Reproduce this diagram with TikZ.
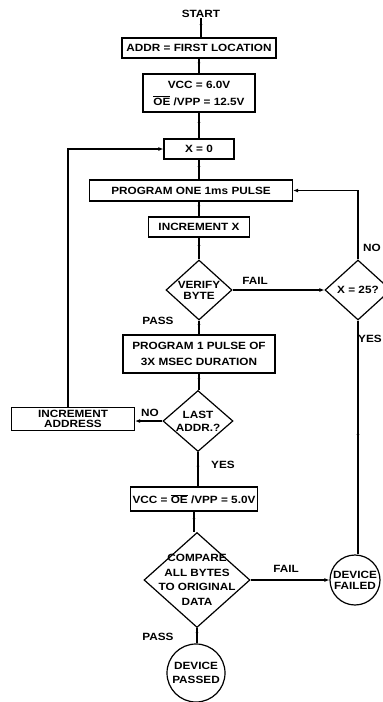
\documentclass[tikz,border=0pt]{standalone}
\usepackage{fontspec}
\setmainfont{Liberation Sans}[FakeStretch=1.12]
\usetikzlibrary{shapes.geometric,arrows.meta,decorations.markings}
\newcommand{\ovl}[1]{$\overline{\hbox{#1}}$}
\begin{document}
\begin{tikzpicture}[x=1pt,y=-1pt,
  every node/.style={font=\bfseries\fontsize{10.5}{12}\selectfont},
  box/.style={draw,line width=1.2pt,inner sep=0pt,align=center},
  dia/.style={draw,diamond,line width=1.2pt,inner sep=0pt},
  term/.style={draw,circle,line width=1.2pt,inner sep=0pt,align=center},
  txt/.style={inner sep=0pt,align=center},
  flow/.style={line width=1.1pt},
  tip/.style={-{Latex[length=5pt,width=4pt]}},
  midtip/.style={postaction={decorate},decoration={markings,mark=at position 0.5 with {\arrow{Latex[length=3.5pt,width=3pt]}}}},
  lbl/.style={inner sep=0pt}]
\useasboundingbox (0,0) rectangle (383,702);
\clip (0,0) rectangle (383,702);
% nodes
\node[txt] (start) at (201,14) {START};
\node[box,minimum width=154pt,minimum height=20pt] (addr) at (199,48) {ADDR = FIRST LOCATION};
\node[box,minimum width=112pt,minimum height=38pt,font=\bfseries\fontsize{10.5}{17}\selectfont] (vcc) at (199,93) {VCC = 6.0V\\\ovl{OE} /VPP = 12.5V};
\node[box,minimum width=70pt,minimum height=20pt] (x0) at (199,149) {X = 0};
\node[box,minimum width=203pt,minimum height=21pt] (prog) at (191,190.5) {PROGRAM ONE 1ms PULSE};
\node[box,minimum width=101pt,minimum height=20pt] (incx) at (199,227) {INCREMENT X};
\node[dia,minimum width=66pt,minimum height=60pt] (verify) at (199,290) {};
\node[txt,font=\bfseries\fontsize{10.5}{11}\selectfont] (verifyT) at (verify) {VERIFY\\BYTE};
\node[dia,minimum width=66pt,minimum height=60pt] (x25) at (358,290) {};
\node[txt] (x25T) at (x25) {X = 25?};
\node[box,minimum width=152pt,minimum height=38pt,font=\bfseries\fontsize{10.5}{16}\selectfont] (prog3) at (199,354) {PROGRAM 1 PULSE OF\\3X MSEC DURATION};
\node[dia,minimum width=70pt,minimum height=61pt] (last) at (198,421) {};
\node[txt,font=\bfseries\fontsize{10.5}{13}\selectfont] (lastT) at (last) {LAST\\ADDR.?};
\node[box,minimum width=123pt,minimum height=23pt,font=\bfseries\fontsize{10.5}{10}\selectfont] (incaddr) at (73,419) {INCREMENT\\ADDRESS};
\node[box,minimum width=127pt,minimum height=24pt] (vcc5) at (194,499) {VCC = \ovl{OE} /VPP = 5.0V};
\node[dia,minimum width=106pt,minimum height=95pt] (compare) at (197,580) {};
\node[txt,font=\bfseries\fontsize{10.5}{14.5}\selectfont] (compareT) at (compare) {COMPARE\\ALL BYTES\\TO ORIGINAL\\DATA};
\node[term,minimum size=50pt,font=\bfseries\fontsize{10.5}{11}\selectfont] (fail) at (355,580) {DEVICE\\FAILED};
\node[term,minimum size=58pt,font=\bfseries\fontsize{10.5}{14}\selectfont] (passed) at (196,673) {DEVICE\\PASSED};
% labels
\node[lbl] (lfail1) at (255,281) {FAIL};
\node[lbl] (lpass1) at (158,321) {PASS};
\node[lbl] (lno1) at (372,248) {NO};
\node[lbl] (lyes1) at (370,339) {YES};
\node[lbl] (lno2) at (150,413) {NO};
\node[lbl] (lyes2) at (223,465) {YES};
\node[lbl] (lfail2) at (286,569) {FAIL};
\node[lbl] (lpass2) at (158,637) {PASS};
% connectors
\draw[flow,midtip] (start.south) -- (start.south |- addr.north);
\draw[flow,midtip] (addr.south) -- (addr.south |- vcc.north);
\draw[flow,midtip] (vcc.south) -- (vcc.south |- x0.north);
\draw[flow,midtip] (x0.south) -- (x0.south |- prog.north);
\draw[flow,midtip] (x0.south |- prog.south) -- (incx.north);
\draw[flow,midtip] (incx.south) -- (verify.north);
\draw[flow,midtip] (verify.south) -- (prog3.north);
\draw[flow,midtip] (prog3.south) -- (prog3.south |- last.north);
\draw[flow,midtip] (last.south) -- (last.south |- vcc5.north);
\draw[flow,midtip] (vcc5.south) -- (vcc5.south |- compare.north);
\draw[flow,midtip] (compare.south) -- (compare.south |- passed.north);
\draw[flow,tip] (verify.east) -- (x25.west);
\draw[flow,tip] (x25.north) |- (prog.east);
\draw[flow,midtip] (x25.south) -- (x25.south |- fail.north);
\draw[flow,tip] (last.west) -- (last.west -| incaddr.east);
\draw[flow,tip] ([xshift=-5pt]incaddr.north) |- (x0.west);
\draw[flow,tip] (compare.east) -- (compare.east -| fail.west);
\end{tikzpicture}
\end{document}
